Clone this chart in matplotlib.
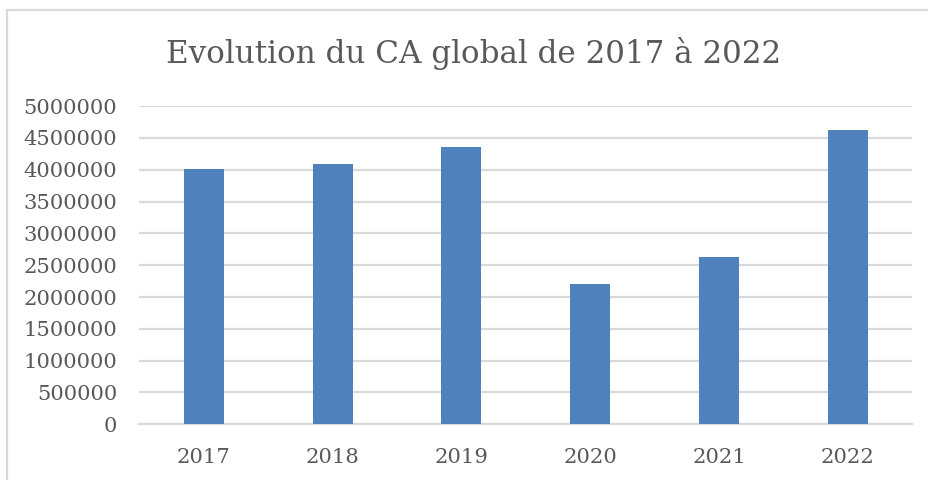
import numpy as np
import matplotlib
matplotlib.use("Agg")
import matplotlib.pyplot as plt
from matplotlib.patches import Rectangle

# data
years = ["2017", "2018", "2019", "2020", "2021", "2022"]
ca_global = [4015000, 4090000, 4355000, 2200000, 2635000, 4628000]
yticks = list(range(0, 5000001, 500000))

txt_col = "#595959"
grid_col = "#d9d9d9"
bar_col = "#4f81bd"

plt.rcParams['font.family'] = ['DejaVu Serif']

fig = plt.figure(figsize=(9.29, 4.8), dpi=100)
ax = fig.add_axes([0.15, 0.116, 0.832, 0.663])

x = np.arange(len(years))
ax.bar(x, ca_global, width=0.31, color=bar_col, zorder=3)

ax.set_xlim(-0.5, len(years) - 0.5)
ax.set_ylim(0, 5000000)
ax.set_yticks(yticks)
ax.set_yticklabels([str(v) for v in yticks])
ax.set_xticks(x)
ax.set_xticklabels(years)

ax.yaxis.grid(True, color=grid_col, linewidth=1.6, zorder=0)
ax.tick_params(axis='both', length=0, labelsize=15.2, labelcolor=txt_col)
ax.tick_params(axis='x', pad=17)
ax.tick_params(axis='y', pad=16)
for side in ["top", "right", "left"]:
    ax.spines[side].set_visible(False)
ax.spines["bottom"].set_color(grid_col)
ax.spines["bottom"].set_linewidth(1.6)

fig.text(0.51, 0.888, "Evolution du CA global de 2017 à 2022",
         ha='center', va='center', fontsize=22.3, color=txt_col)

# chart frame (cropped on right and bottom)
fig.patches.append(Rectangle((7 / 929, -0.1), 1.2, 1.08, transform=fig.transFigure,
                             fill=False, edgecolor=grid_col, linewidth=1.6))

fig.savefig("out.png", dpi=100)
